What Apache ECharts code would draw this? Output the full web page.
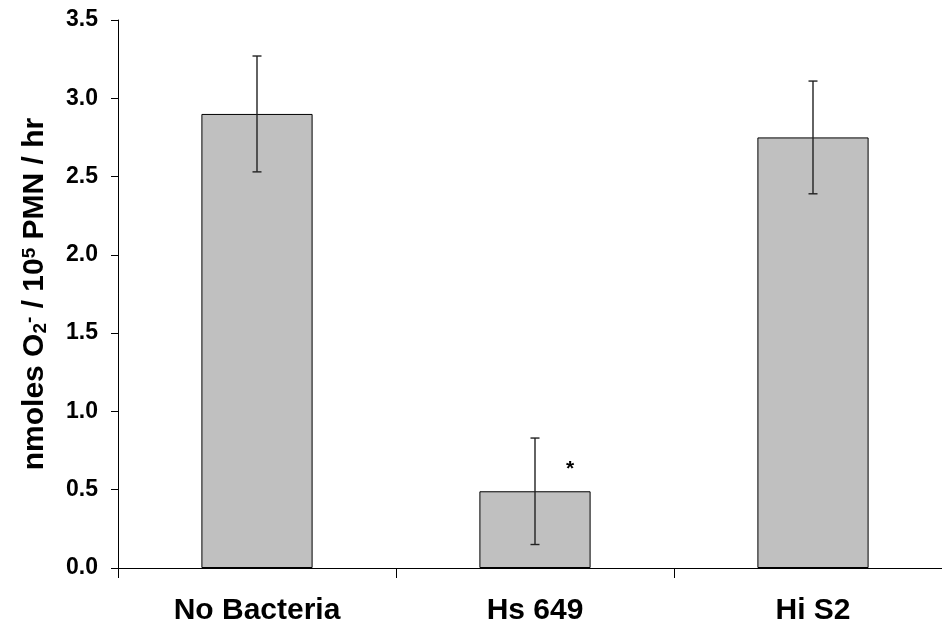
<!DOCTYPE html>
<html>
<head>
<meta charset="utf-8">
<style>
  html, body { margin: 0; padding: 0; background: #fff; overflow: hidden; }
  #chart { width: 952px; height: 629px; }
</style>
<script src="https://cdn.jsdelivr.net/npm/echarts@6/dist/echarts.min.js"></script>
</head>
<body>
<div id="chart"></div>
<script>
// Superoxide production per group, with error bars
const categories = ['No Bacteria', 'Hs 649', 'Hi S2'];
const means = [2.90, 0.49, 2.75];
const errLow = [2.53, 0.15, 2.39];
const errHigh = [3.27, 0.83, 3.11];
const yTicks = [0, 0.5, 1.0, 1.5, 2.0, 2.5, 3.0, 3.5];
// significance marker: category index, value height, symbol
const marks = [{ cat: 1, value: 0.65, text: '*' }];

const FONT = '"Liberation Sans", Arial, sans-serif';
const chart = echarts.init(document.getElementById('chart'));

const errData = categories.map((c, i) => [i, errLow[i], errHigh[i]]);

chart.setOption({
  animation: false,
  backgroundColor: '#ffffff',
  // the plot runs past the right edge of the visible page
  grid: { left: 118, top: 20, right: 0, bottom: 61, containLabel: false },
  xAxis: {
    type: 'category',
    data: categories,
    boundaryGap: true,
    axisLine: { show: true, lineStyle: { color: '#000', width: 1 } },
    axisTick: { show: true, length: 10, alignWithLabel: false, lineStyle: { color: '#000' } },
    axisLabel: {
      margin: 28,
      color: '#000',
      fontFamily: FONT,
      fontWeight: 'bold',
      fontSize: 30
    },
    splitLine: { show: false }
  },
  yAxis: {
    type: 'value',
    min: 0,
    max: 3.5,
    interval: 0.5,
    name: '{n|nmoles O}{sub|2}{sup|-}{n| / 10}{sup|5}{n| PMN / hr}',
    nameLocation: 'middle',
    nameGap: 68,
    nameRotate: 90,
    nameTextStyle: {
      rich: {
        n: { fontFamily: FONT, fontWeight: 'bold', fontSize: 30, color: '#000' },
        sub: { fontFamily: FONT, fontWeight: 'bold', fontSize: 19, color: '#000', verticalAlign: 'bottom', padding: [11, 0, 0, 0] },
        sup: { fontFamily: FONT, fontWeight: 'bold', fontSize: 19, color: '#000', verticalAlign: 'top', padding: [0, 0, 11, 0] }
      }
    },
    axisLine: { show: true, lineStyle: { color: '#000', width: 1 } },
    axisTick: { show: true, length: 7, lineStyle: { color: '#000' } },
    axisLabel: {
      margin: 20,
      color: '#000',
      fontFamily: FONT,
      fontWeight: 'bold',
      fontSize: 23,
      formatter: v => yTicks.includes(v) ? v.toFixed(1) : ''
    },
    splitLine: { show: false }
  },
  series: [
    {
      type: 'bar',
      data: means,
      barWidth: '40%',
      itemStyle: { color: '#c0c0c0', borderColor: '#000', borderWidth: 1 }
    },
    {
      type: 'custom',
      data: errData,
      z: 10,
      renderItem: (params, api) => {
        const x = api.value(0);
        const lo = api.coord([x, api.value(1)]);
        const hi = api.coord([x, api.value(2)]);
        const cap = 4.5;
        const style = { stroke: '#222', lineWidth: 1.4 };
        return {
          type: 'group',
          children: [
            { type: 'line', shape: { x1: lo[0], y1: lo[1], x2: hi[0], y2: hi[1] }, style },
            { type: 'line', shape: { x1: hi[0] - cap, y1: hi[1], x2: hi[0] + cap, y2: hi[1] }, style },
            { type: 'line', shape: { x1: lo[0] - cap, y1: lo[1], x2: lo[0] + cap, y2: lo[1] }, style }
          ]
        };
      }
    },
    {
      type: 'custom',
      data: marks.map(m => [m.cat, m.value, m.text]),
      z: 11,
      renderItem: (params, api) => {
        const p = api.coord([api.value(0), api.value(1)]);
        return {
          type: 'text',
          style: {
            x: p[0] + 35, y: p[1] + 3,
            text: marks[params.dataIndex].text,
            fill: '#000',
            font: 'bold 21px ' + FONT,
            align: 'center', verticalAlign: 'middle'
          }
        };
      }
    }
  ]
});
</script>
</body>
</html>
